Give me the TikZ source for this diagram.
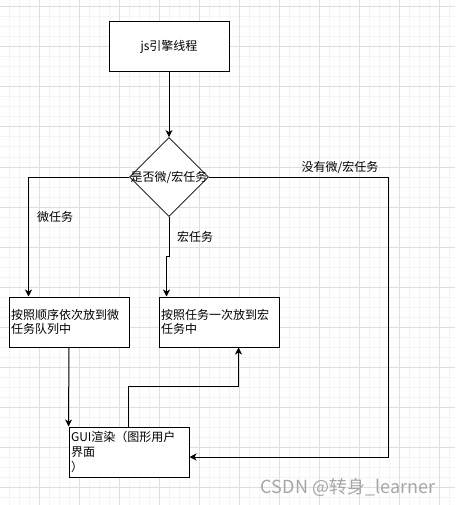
\documentclass[tikz,border=0pt]{standalone}
\usepackage{fontspec}
\setmainfont{Noto Sans CJK SC}
\usetikzlibrary{shapes.geometric,arrows.meta,calc}
\definecolor{minorgrid}{HTML}{F4F4F4}
\definecolor{majorgrid}{HTML}{DEDEDE}
\definecolor{wm}{HTML}{A6A6A6}
\tikzset{
  box/.style={draw, line width=1pt, minimum width=120pt, minimum height=50pt, inner sep=0pt, fill=white},
  textbox/.style={box, text width=116pt, inner xsep=2pt, align=left},
  dia/.style={diamond, draw, line width=0.8pt, minimum width=79pt, minimum height=79pt, inner sep=0pt, fill=white},
  conn/.style={line width=1pt, -{Stealth[length=7pt,width=7pt,inset=2pt]}},
  lbl/.style={inner sep=0pt},
}
\begin{document}
\begin{tikzpicture}[x=1pt,y=-1pt]
\fontsize{12pt}{14pt}\selectfont
\useasboundingbox (0,0) rectangle (455,505);
\fill[white] (0,0) rectangle (455,505);
% grid
\foreach \x in {9,19,...,449} \draw[minorgrid, line width=1pt] (\x,0) -- (\x,505);
\foreach \y in {7,17,...,497} \draw[minorgrid, line width=1pt] (0,\y) -- (455,\y);
\foreach \x in {39,79,...,439} \draw[majorgrid, line width=1pt] (\x,0) -- (\x,505);
\foreach \y in {7,47,...,487} \draw[majorgrid, line width=1pt] (0,\y) -- (455,\y);

% nodes
\node[box] (top) at (169,47) {js引擎线程};
\node[dia] (d) at (169,177) {\makebox[0pt]{是否微/宏任务}};
\node[textbox] (left) at (69,322) {按照顺序依次放到微\\任务队列中};
\node[textbox] (mid) at (219,322) {按照任务一次放到宏\\任务中};
\node[textbox, font=\fontsize{12pt}{15pt}\selectfont] (gui) at (129,452) {GUI渲染（图形用户\\界面\\）};

% labels
\node[lbl] (lmicro) at (55,217) {微任务};
\node[lbl] (lmacro) at (195,237) {宏任务};
\node[lbl] (lnone) at (340,167) {没有微/宏任务};
\node[lbl, text=wm, font=\fontsize{18pt}{21pt}\selectfont] (wmk) at (348,487) {CSDN @转身\_learner};

% connectors
\coordinate (rc) at (388,177);
\draw[conn] (top.south) -- (d.north);
\draw[conn] (d.west) -| ([xshift=20pt]left.north west);
\draw[conn] (d.south) -- ++(0,40) -| ([xshift=8pt]mid.north west);
\draw[conn] (d.east) -- (rc) |- ([yshift=-5pt]gui.east);
\draw[conn] (left.south) -- (gui.north west);
\draw[conn] ([xshift=60pt]gui.north west) -- ++(0,-40) -| ([xshift=80pt]mid.south west);
\end{tikzpicture}
\end{document}
